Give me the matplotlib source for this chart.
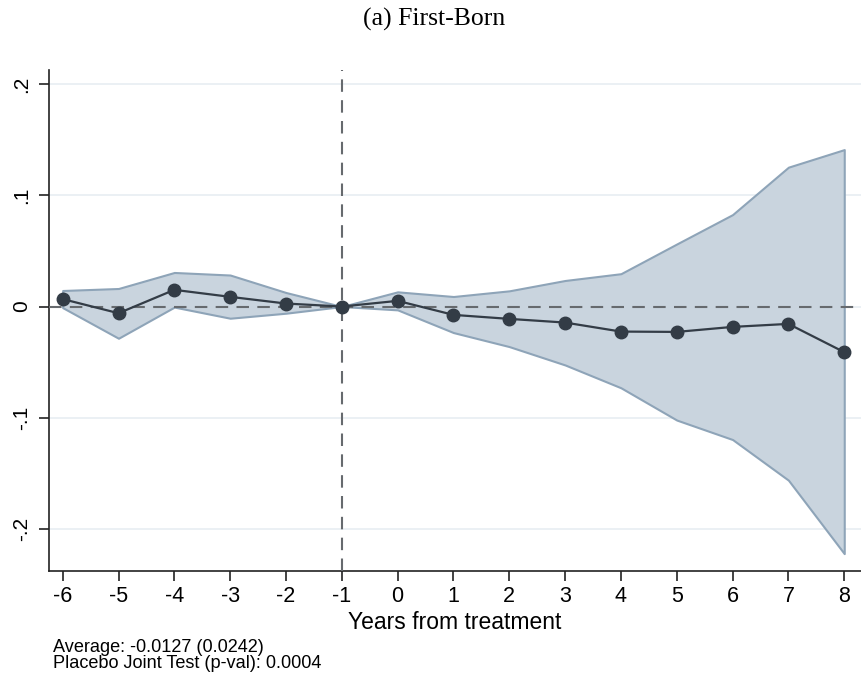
import matplotlib
matplotlib.use("Agg")
import matplotlib.pyplot as plt

# Event-study estimates by year relative to treatment
years = [-6, -5, -4, -3, -2, -1, 0, 1, 2, 3, 4, 5, 6, 7, 8]
coef = [0.0067, -0.0060, 0.0150, 0.0087, 0.0027, 0.0, 0.0051,
        -0.0075, -0.0111, -0.0144, -0.0225, -0.0228, -0.0183, -0.0156, -0.0410]
ci_upper = [0.0144, 0.0162, 0.0306, 0.0283, 0.0126, 0.0, 0.0132,
            0.0090, 0.0141, 0.0234, 0.0295, 0.0562, 0.0826, 0.1252, 0.1410]
ci_lower = [-0.0010, -0.0285, -0.0005, -0.0105, -0.0060, 0.0, -0.0030,
            -0.0234, -0.0360, -0.0525, -0.0730, -0.1020, -0.1195, -0.1560, -0.2220]

ytick_vals = [-0.2, -0.1, 0.0, 0.1, 0.2]
ytick_labels = ["-.2", "-.1", "0", ".1", ".2"]

title = "(a) First-Born"
xlabel = "Years from treatment"
notes = ["Average: -0.0127 (0.0242)", "Placebo Joint Test (p-val): 0.0004"]

sans = ["Liberation Sans", "DejaVu Sans"]
serif = ["Liberation Serif", "DejaVu Serif"]

fig = plt.figure(figsize=(8.61, 6.77), dpi=100)
ax = fig.add_axes([49 / 861, 1 - 571 / 677, 1 - 49 / 861, (571 - 70) / 677])

ax.fill_between(years, ci_lower, ci_upper, facecolor="#c9d4de",
                edgecolor="#8ea4b8", linewidth=1.5, zorder=2)
ax.axhline(0, color="#666a6e", linestyle=(0, (6, 4)), linewidth=1.5, zorder=3)
ax.axvline(-1, color="#666a6e", linestyle=(0, (6, 4)), linewidth=1.5, zorder=3)
ax.plot(years, coef, color="#333c46", linewidth=1.6, marker="o",
        markersize=9, zorder=4)

ax.set_xlim(-6.245, 8.3)
ax.set_ylim(-0.2376, 0.2125)

ax.set_yticks(ytick_vals)
ax.set_yticklabels(ytick_labels, rotation=90, va="center", family=sans, fontsize=15)
ax.set_xticks(years)
ax.set_xticklabels([str(y) for y in years], family=sans, fontsize=15.5)
ax.tick_params(axis="both", direction="out", length=7, width=1.2, color="#222222")
ax.tick_params(axis="x", pad=4)
ax.tick_params(axis="y", pad=6)

ax.grid(axis="y", color="#e8eef2", linewidth=1.2, zorder=0)
ax.set_axisbelow(True)

for side in ("top", "right"):
    ax.spines[side].set_visible(False)
for side in ("left", "bottom"):
    ax.spines[side].set_color("#222222")
    ax.spines[side].set_linewidth(1.2)

ax.set_xlabel(xlabel, family=sans, fontsize=16.5, labelpad=2.5)

fig.text(434 / 861, 1 - 19 / 677, title, family=serif, fontsize=18.5,
         ha="center", va="center")
fig.text(53 / 861, 1 - 647 / 677, notes[0], family=sans, fontsize=13.1,
         ha="left", va="center")
fig.text(53 / 861, 1 - 664 / 677, notes[1], family=sans, fontsize=13.1,
         ha="left", va="center")

fig.savefig("out.png", dpi=100)
